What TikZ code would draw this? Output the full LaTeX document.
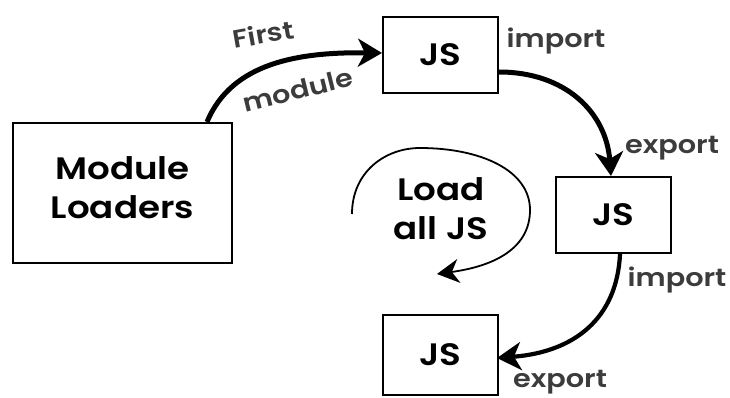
\documentclass[tikz,border=0pt]{standalone}
\usepackage{fontspec}
\setmainfont{Poppins}[BoldFont={Poppins SemiBold}, FakeStretch=1.15]
\usetikzlibrary{arrows.meta}
\definecolor{labelgrey}{HTML}{3C3C3C}
\tikzset{
  box/.style={draw=black, line width=2.4pt, fill=white, inner sep=0pt},
  big/.style={font=\fontsize{31}{39}\selectfont\bfseries, align=center},
  tag/.style={font=\fontsize{25}{28}\selectfont\bfseries, text=labelgrey, inner sep=0pt},
  flow/.style={line width=5pt, -{Stealth[length=24pt, width=28pt, inset=7pt]}},
  loop/.style={line width=1.8pt, -{Stealth[length=22pt, width=24pt, inset=7pt]}}
}
\begin{document}
\begin{tikzpicture}[x=1pt, y=-1pt]
\useasboundingbox (0,0) rectangle (730,398);

% boxes
\node[box, minimum width=219pt, minimum height=140pt] (ml) at (122.5,193) {};
\node[big] (mltext) at (122.5,188) {Module\\Loaders};
\node[box, minimum width=115pt, minimum height=76pt] (js1) at (440.5,55) {};
\node[big] (js1t) at (440.5,55) {JS};
\node[box, minimum width=115pt, minimum height=76pt] (js2) at (613.5,215) {};
\node[big] (js2t) at (613.5,215) {JS};
\node[box, minimum width=115pt, minimum height=80pt] (js3) at (440.5,355) {};
\node[big] (js3t) at (440.5,355) {JS};

% anchor points on the boxes
\coordinate (a1) at (207,122);
\coordinate (b1) at (382,53);
\coordinate (a2) at (499,72);
\coordinate (b2) at (611,176);
\coordinate (a3) at (620,254);
\coordinate (b3) at (497,358);

% arrows
\draw[flow] (a1) .. controls (232,62) and (300,52) .. (b1);
\draw[flow] (a2) .. controls (565,72) and (606,112) .. (b2);
\draw[flow, line width=4.2pt] (a3) .. controls (617,318) and (575,352) .. (b3);

% the loading loop
\coordinate (l0) at (352,214);
\coordinate (l1) at (437,274);
\draw[loop] (l0) .. controls (352,172) and (385,148) .. (420,148)
  .. controls (480,148) and (530,170) .. (530,210)
  .. controls (530,248) and (495,266) .. (l1);
\node[big] (load) at (441,209) {Load\\all JS};

% labels
\node[tag, rotate=10] (first) at (263,34) {First};
\node[tag, rotate=14] (mod) at (298,90) {module};
\node[tag] (imp1) at (556,41) {import};
\node[tag] (exp1) at (672,148) {export};
\node[tag] (imp2) at (677,280) {import};
\node[tag] (exp2) at (560,382) {export};
\end{tikzpicture}
\end{document}
